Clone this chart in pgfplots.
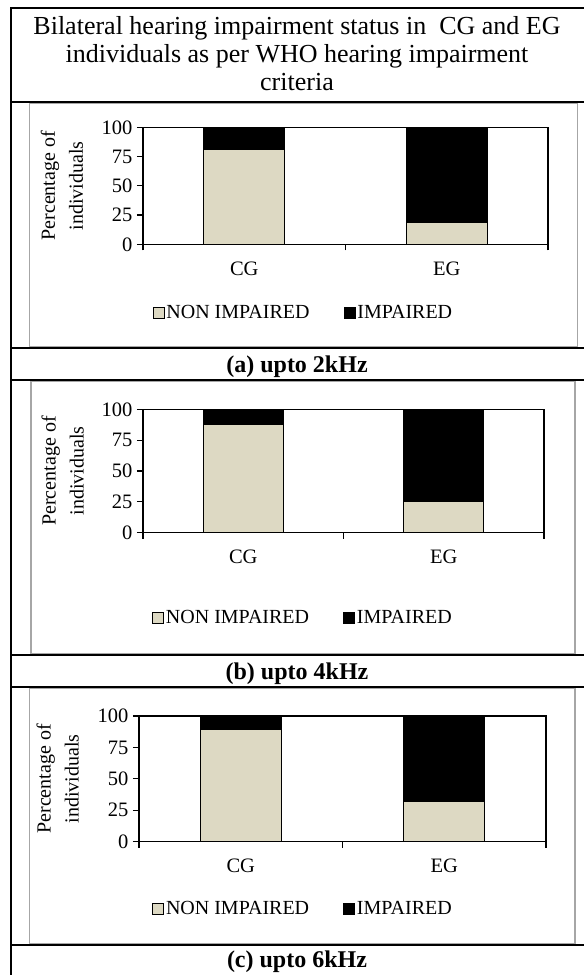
\documentclass[border=0pt]{standalone}
\usepackage{fontspec}
\setmainfont{Liberation Serif}
\usepackage{pgfplots}
\pgfplotsset{compat=1.18}
\definecolor{tanbar}{HTML}{DDD9C3}
\definecolor{chartgray}{HTML}{A6A6A6}

\pgfplotsset{
  mychart/.style={
    scale only axis,
    ybar stacked,
    bar width=0.4,
    xmin=-0.5, xmax=1.5, ymin=0, ymax=100,
    xtick={0,1}, xticklabels={CG,EG},
    minor xtick={-0.5,0.5,1.5},
    ytick={0,25,50,75,100},
    tick pos=left,
    tick align=outside,
    major tick length=6pt, minor tick length=6pt,
    major x tick style={draw=none},
    every tick/.style={black, line width=1.2pt},
    minor x tick style={black, line width=1.2pt},
    axis line style={line width=1.2pt, black},
    /pgf/number format/assume math mode=true,
    ticklabel style={font=\fontsize{20.5}{24}\selectfont},
    xticklabel style={yshift=-8pt},
    yticklabel style={xshift=-1pt},
    ylabel={Percentage of\\individuals},
    ylabel style={at={(axis description cs:-0.2,0.5)}, anchor=center, rotate=0, align=center, font=\fontsize{20}{28}\selectfont},
    legend style={draw=none, fill=none, legend columns=2, anchor=center,
      font=\fontsize{20}{24}\selectfont,
      /tikz/every even column/.append style={column sep=32pt},
      /tikz/every odd column/.append style={column sep=0pt}},
    legend image code/.code={\draw[#1, line width=0.8pt] (0pt,-6pt) rectangle (11pt,5pt);},
    every axis plot/.append style={draw=black, line width=1pt},
  }
}

\begin{document}
\begin{tikzpicture}
\useasboundingbox (0pt,0pt) rectangle (584pt,-975pt);
\fill[white] (0pt,0pt) rectangle (584pt,-975pt);

% table lines
\begin{scope}[line width=1.8pt, black]
\draw (11pt,-8pt) -- (584pt,-8pt);
\draw (11pt,-7.1pt) -- (11pt,-975pt);
\foreach \yy in {102,348.3,380,655,687,945}{\draw (11pt,-\yy pt) -- (584pt,-\yy pt);}
\end{scope}

% chart area borders
\begin{scope}[line width=1.5pt, chartgray]
\draw (29.5pt,-103.5pt) rectangle (577.5pt,-346.5pt);
\draw (31pt,-381.5pt) rectangle (575pt,-653.5pt);
\draw (29.5pt,-688.5pt) rectangle (575pt,-943.5pt);
\end{scope}

% title
\begin{scope}[font=\fontsize{26}{30}\selectfont]
\node[anchor=base] at (297pt,-34pt) {Bilateral hearing impairment status in \ CG and EG};
\node[anchor=base] at (297pt,-62pt) {individuals as per WHO hearing impairment};
\node[anchor=base] at (297pt,-90pt) {criteria};
\end{scope}

% captions
\begin{scope}[font=\fontsize{24}{28}\selectfont\bfseries]
\node[anchor=base] at (297pt,-372pt) {(a) upto 2kHz};
\node[anchor=base] at (297pt,-679pt) {(b) upto 4kHz};
\node[anchor=base] at (297pt,-967pt) {(c) upto 6kHz};
\end{scope}

% (a)
\begin{axis}[mychart, at={(143pt,-244.3pt)}, anchor=south west, width=405pt, height=117pt,
  legend style={at={(0.396,-0.58)}}]
\addplot[fill=tanbar] coordinates {(0,81) (1,19)};
\addplot[fill=black] coordinates {(0,19) (1,81)};
\legend{NON IMPAIRED,IMPAIRED}
\end{axis}

% (b)
\begin{axis}[mychart, at={(143pt,-532.7pt)}, anchor=south west, width=401pt, height=123.4pt,
  legend style={at={(0.399,-0.69)}}]
\addplot[fill=tanbar] coordinates {(0,87.5) (1,25)};
\addplot[fill=black] coordinates {(0,12.5) (1,75)};
\legend{NON IMPAIRED,IMPAIRED}
\end{axis}

% (c)
\begin{axis}[mychart, at={(139pt,-841.7pt)}, anchor=south west, width=407pt, height=125.7pt,
  legend style={at={(0.403,-0.53)}}]
\addplot[fill=tanbar] coordinates {(0,88.9) (1,32)};
\addplot[fill=black] coordinates {(0,11.1) (1,68)};
\legend{NON IMPAIRED,IMPAIRED}
\end{axis}
\end{tikzpicture}
\end{document}
